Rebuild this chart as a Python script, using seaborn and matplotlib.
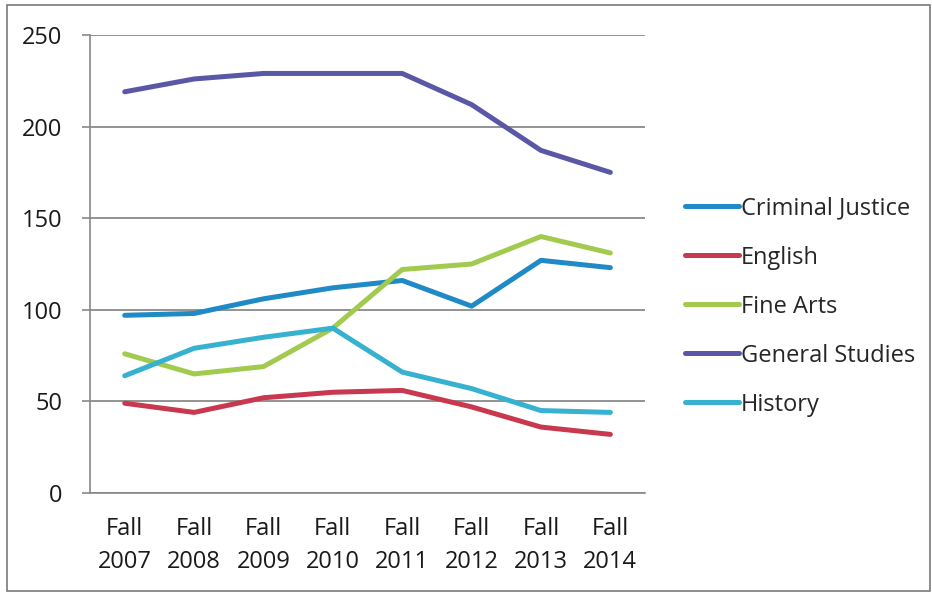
import pandas as pd
import matplotlib
matplotlib.use('Agg')
import matplotlib.pyplot as plt
import seaborn as sns
from matplotlib.patches import Rectangle

# Data
terms = ['Fall\n2007', 'Fall\n2008', 'Fall\n2009', 'Fall\n2010',
         'Fall\n2011', 'Fall\n2012', 'Fall\n2013', 'Fall\n2014']
criminal_justice = [97, 98, 106, 112, 116, 102, 127, 123]
english = [49, 44, 52, 55, 56, 47, 36, 32]
fine_arts = [76, 65, 69, 90, 122, 125, 140, 131]
general_studies = [219, 226, 229, 229, 229, 212, 187, 175]
history = [64, 79, 85, 90, 66, 57, 45, 44]

programs = ['Criminal Justice', 'English', 'Fine Arts', 'General Studies', 'History']
colors = ['#1f8ac6', '#c8384f', '#a2ca4f', '#5a57a6', '#36b1d0']

# Build long-form table for seaborn
series = [criminal_justice, english, fine_arts, general_studies, history]
rows = []
for name, vals in zip(programs, series):
    for i, v in enumerate(vals):
        rows.append({'pos': i, 'Term': terms[i], 'Program': name, 'Count': v})
df = pd.DataFrame(rows)

sns.set_style('white')
plt.rcParams['font.family'] = ['Open Sans', 'DejaVu Sans']

fig = plt.figure(figsize=(9.32, 5.93), dpi=100)
ax = fig.add_axes([0.0966, 0.1686, 0.5955, 0.7724])

sns.lineplot(data=df, x='pos', y='Count', hue='Program', hue_order=programs,
             palette=colors, linewidth=3.6, ax=ax, legend=True)

ax.set_xlim(-0.5, len(terms) - 0.5)
ax.set_ylim(0, 250)
ax.set_yticks([0, 50, 100, 150, 200, 250])
ax.set_xticks(range(len(terms)))
ax.set_xticklabels(terms, linespacing=1.5)
ax.set_xticks([i - 0.5 for i in range(len(terms) + 1)], minor=True)
ax.tick_params(axis='x', which='major', length=0, pad=17, labelsize=17, colors='#1a1a1a')
ax.tick_params(axis='x', which='minor', length=8, width=1.2, color='#888888', direction='out')
ax.tick_params(axis='y', length=6, width=1.2, color='#888888', pad=14, labelsize=17,
               colors='#1a1a1a', left=True)
ax.set_xlabel('')
ax.set_ylabel('')

ax.grid(axis='y', color='#808080', linewidth=1.2)
ax.set_axisbelow(True)
for side in ['top', 'right']:
    ax.spines[side].set_visible(False)
for side in ['left', 'bottom']:
    ax.spines[side].set_color('#888888')
    ax.spines[side].set_linewidth(1.2)

handles, labels = ax.get_legend_handles_labels()
ax.legend(handles, labels, loc='center left', bbox_to_anchor=(0.735, 0.483),
          bbox_transform=fig.transFigure, frameon=False, fontsize=17,
          handlelength=2.3, handletextpad=0.08, labelspacing=1.06, borderpad=0,
          borderaxespad=0)

# outer chart border
fig.patches.append(Rectangle((0.0075, 0.003), 0.99, 0.988, transform=fig.transFigure,
                             fill=False, edgecolor='#7a7a7a', linewidth=1.2))

fig.savefig('out.png', dpi=100)
